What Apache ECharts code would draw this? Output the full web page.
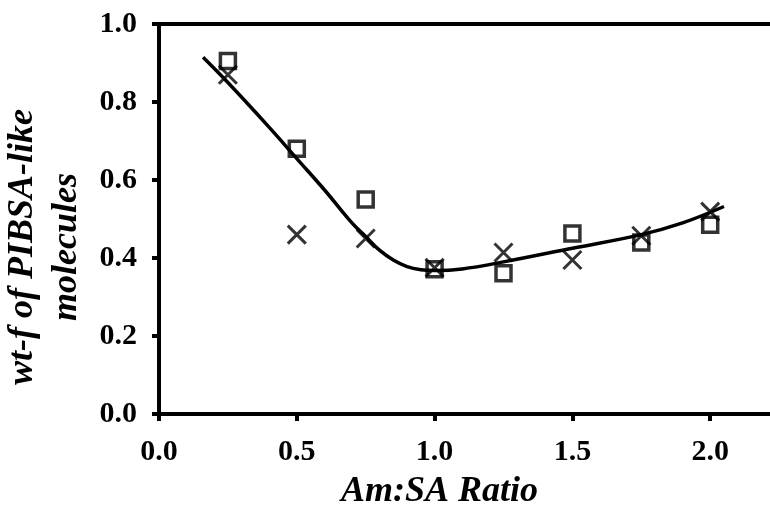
<!DOCTYPE html>
<html>
<head>
<meta charset="utf-8">
<script src="https://cdn.jsdelivr.net/npm/echarts@6/dist/echarts.min.js"></script>
<style>
  html, body { margin: 0; padding: 0; background: #fff; }
  #chart { width: 770px; height: 506px; }
</style>
</head>
<body>
<div id="chart"></div>
<script>
// Am:SA ratio (x) for each measured sample
const ratios = [0.25, 0.5, 0.75, 1.0, 1.25, 1.5, 1.75, 2.0];
// wt-fraction of PIBSA-like molecules, two measurement sets
const squareValues = [0.905, 0.68, 0.55, 0.371, 0.361, 0.463, 0.44, 0.485];
const crossValues = [0.87, 0.46, 0.45, 0.375, 0.414, 0.395, 0.457, 0.519];
// Trend curve through the data
const trendX = [0.16, 0.25, 0.4, 0.5, 0.6, 0.7, 0.75, 0.8, 0.85, 0.9, 0.95, 1.0, 1.1, 1.25, 1.5, 1.75, 1.9, 2.05];
const trendY = [0.915, 0.85, 0.735, 0.655, 0.575, 0.49, 0.455, 0.42, 0.395, 0.378, 0.37, 0.368, 0.372, 0.39, 0.425, 0.46, 0.49, 0.532];
// Axis tick labels
const yTicks = ['0.0', '0.2', '0.4', '0.6', '0.8', '1.0'];
const xTicks = ['0.0', '0.5', '1.0', '1.5', '2.0', '2.5'];

const serif = '"Liberation Serif", "Times New Roman", serif';

const pairs = (xs, ys) => xs.map((x, i) => [x, ys[i]]);

const chart = echarts.init(document.getElementById('chart'), null, { renderer: 'canvas' });

chart.setOption({
  animation: false,
  backgroundColor: '#fff',
  grid: {
    left: 159, top: 24, bottom: 92, right: -78,
    outerBoundsMode: 'none', containLabel: false,
    show: true, borderColor: '#000', borderWidth: 4, backgroundColor: 'transparent'
  },
  xAxis: {
    type: 'value', min: 0, max: 2.5, interval: 0.5,
    name: 'Am:SA Ratio', nameLocation: 'middle', nameGap: 60,
    nameTextStyle: { fontFamily: serif, fontSize: 36, fontWeight: 'bold', fontStyle: 'italic', color: '#000', padding: [0, 128, 0, 0] },
    axisLine: { show: true, lineStyle: { color: '#000', width: 4 } },
    axisTick: { show: true, inside: false, length: 7, lineStyle: { color: '#000', width: 4 } },
    splitLine: { show: false },
    axisLabel: {
      margin: 23, fontFamily: serif, fontSize: 30, fontWeight: 'bold', color: '#000',
      formatter: v => xTicks[Math.round(v / 0.5)]
    }
  },
  yAxis: {
    type: 'value', min: 0, max: 1.0, interval: 0.2,
    name: 'wt-f of PIBSA-like\nmolecules', nameLocation: 'middle', nameRotate: 90, nameGap: 64,
    nameTextStyle: { fontFamily: serif, fontSize: 36, fontWeight: 'bold', fontStyle: 'italic', color: '#000', lineHeight: 44, padding: [0, 56, 0, 0] },
    axisLine: { show: true, lineStyle: { color: '#000', width: 4 } },
    axisTick: { show: true, inside: false, length: 7, lineStyle: { color: '#000', width: 4 } },
    splitLine: { show: false },
    axisLabel: {
      margin: 22, fontFamily: serif, fontSize: 30, fontWeight: 'bold', color: '#000',
      formatter: v => yTicks[Math.round(v / 0.2)]
    }
  },
  series: [
    {
      type: 'scatter', name: 'squares',
      data: pairs(ratios, squareValues),
      symbol: 'rect', symbolSize: 15,
      itemStyle: { color: 'rgba(255,255,255,0)', borderColor: '#000', borderWidth: 3.5 },
      z: 2
    },
    {
      type: 'scatter', name: 'crosses',
      data: pairs(ratios, crossValues),
      symbol: 'path://M0 0L20 20M20 0L0 20', symbolSize: 18,
      itemStyle: { color: 'none', borderColor: '#000', borderWidth: 3 },
      z: 3
    },
    {
      type: 'line', name: 'trend',
      data: pairs(trendX, trendY),
      smooth: 0.4, showSymbol: false, symbol: 'none',
      lineStyle: { color: '#000', width: 3.5 },
      z: 4
    }
  ]
});
</script>
</body>
</html>
